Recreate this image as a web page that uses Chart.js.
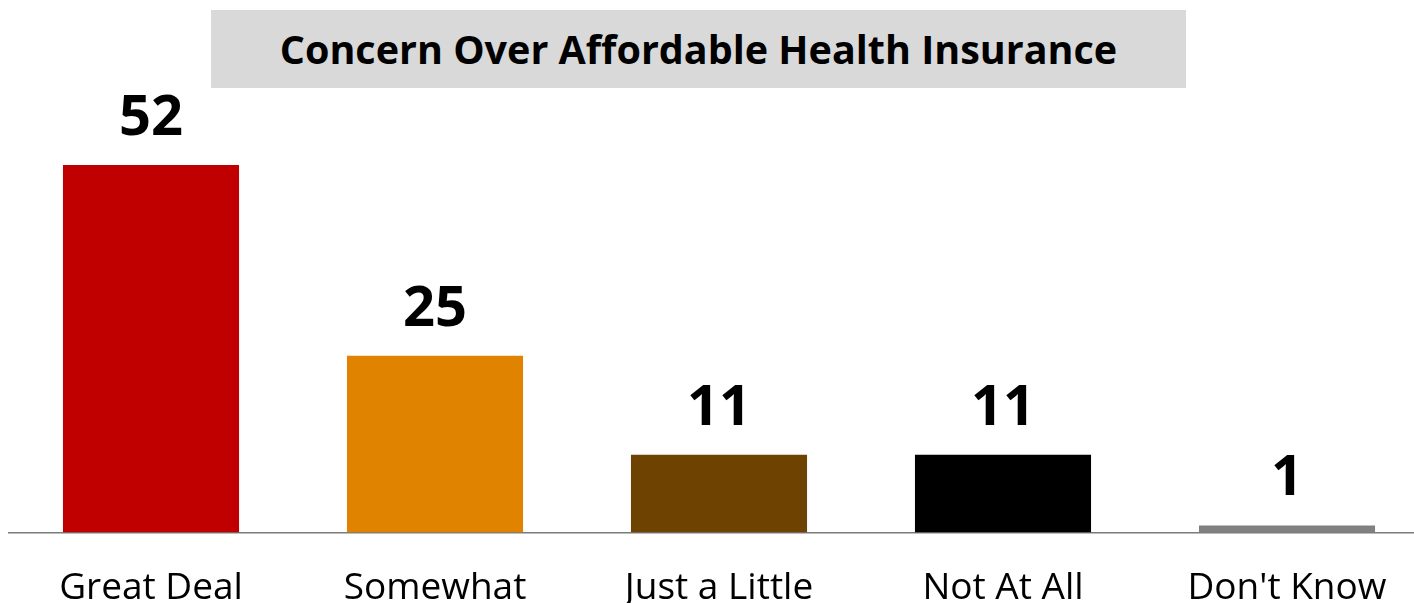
<!DOCTYPE html>
<html>
<head>
<meta charset="utf-8">
<script src="https://cdn.jsdelivr.net/npm/chart.js@4"></script>
<style>
  html, body { margin: 0; padding: 0; background: #fff; overflow: hidden; }
  #wrap { position: relative; width: 1430px; height: 603px; }
  #title {
    position: absolute; left: 211px; top: 10px; width: 975px; height: 78px;
    background: #d9d9d9; color: #000;
    font: bold 39.5px "Open Sans", sans-serif;
    display: flex; align-items: center; justify-content: center;
  }
</style>
</head>
<body>
<div id="wrap">
  <canvas id="bar-chart" width="1430" height="603"></canvas>
  <div id="title">Concern Over Affordable Health Insurance</div>
</div>
<script>
var categories = ["Great Deal", "Somewhat", "Just a Little", "Not At All", "Don't Know"];
var values = [52, 25, 11, 11, 1];
var barColors = ["#c00000", "#e08300", "#6e4200", "#000000", "#808080"];

// write each value above its bar
var valueLabels = {
  id: 'valueLabels',
  afterDatasetsDraw: function(chart){
    var ctx = chart.ctx;
    var meta = chart.getDatasetMeta(0);
    ctx.save();
    ctx.font = 'bold 56px "Open Sans", sans-serif';
    ctx.fillStyle = '#000';
    ctx.textAlign = 'center';
    ctx.textBaseline = 'alphabetic';
    meta.data.forEach(function(bar, i){
      ctx.fillText(values[i], bar.x, bar.y - 30);
    });
    ctx.restore();
  }
};

window.addEventListener('load', function(event){
  var context = document.getElementById('bar-chart').getContext('2d');
  var chart = new Chart(context, {
    type: 'bar',
    data: {
      labels: categories,
      datasets: [{
        data: values,
        backgroundColor: barColors,
        borderWidth: 0,
        categoryPercentage: 1,
        barPercentage: 0.62
      }]
    },
    options: {
      responsive: false,
      animation: false,
      layout: { padding: { left: 9, right: 1, top: 108.5, bottom: 0 } },
      plugins: { legend: { display: false }, tooltip: { enabled: false } },
      scales: {
        x: {
          grid: { display: false },
          border: { display: true, color: '#7a7a7a', width: 1.5 },
          ticks: {
            color: '#000',
            padding: 26,
            maxRotation: 0,
            font: { family: 'Open Sans', size: 37 }
          },
          afterFit: function(scale){ scale.height = 70.5; }
        },
        y: {
          display: false,
          min: 0,
          max: 60
        }
      }
    },
    plugins: [valueLabels]
  });
});
</script>
</body>
</html>
